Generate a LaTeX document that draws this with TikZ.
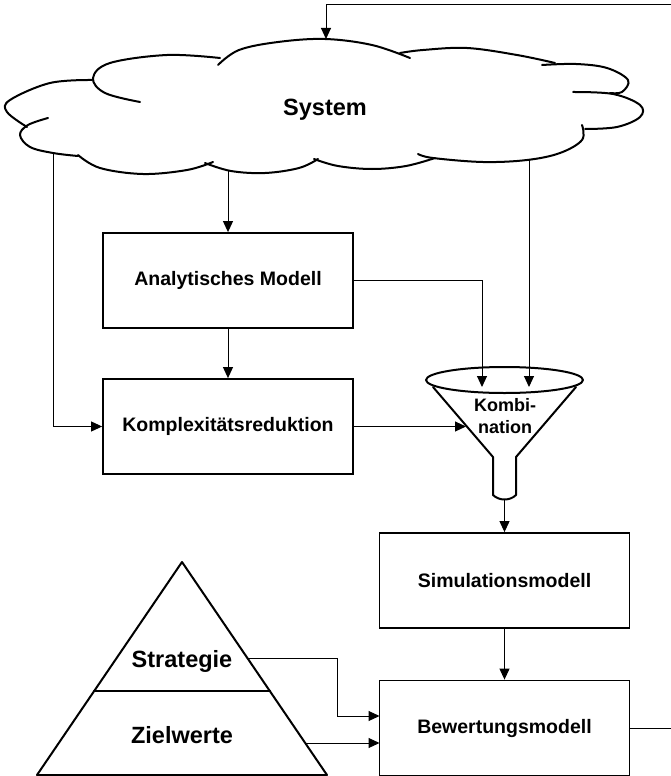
\documentclass[tikz,border=0pt]{standalone}
\usepackage{fontspec}
\setmainfont{Liberation Sans}
\usetikzlibrary{arrows.meta,calc}
\begin{document}
\begin{tikzpicture}[x=1pt,y=-1pt,
  box/.style={draw,line width=1.8pt,minimum width=250pt,minimum height=95pt,inner sep=0pt,
    font=\fontsize{19.5}{23}\selectfont\bfseries},
  conn/.style={line width=1pt,-{Triangle[length=11pt,width=10pt]}},
  outline/.style={line width=2pt,line join=round,line cap=round},
  lbl/.style={inner sep=0pt,font=\fontsize{23.5}{27}\selectfont\bfseries}]
\useasboundingbox (0,0) rectangle (670,776);

% ---- cloud ----
\draw[outline] plot[smooth,tension=0.6] coordinates {(218,65) (239,50) (278,42) (325,39) (372,45) (410,58)};
\draw[outline] plot[smooth,tension=0.6] coordinates {(400,53) (423,50) (467,48) (517,55) (555,63)};
\draw[outline] plot[smooth,tension=0.6] coordinates {(542,65) (576,64) (607,68) (628,80) (622,92) (610,93)};
\draw[outline] plot[smooth,tension=0.6] coordinates {(573,92) (613,94) (640,105) (640,117) (617,127) (585,129)};
\draw[outline] plot[smooth,tension=0.6] coordinates {(582,125) (582,140) (560,153) (527,160) (483,162) (433,158) (418,154)};
\draw[outline] plot[smooth,tension=0.6] coordinates {(435,158) (406,166) (372,169) (338,166) (314,159)};
\draw[outline] plot[smooth,tension=0.6] coordinates {(318,159) (299,168) (265,173) (231,171) (205,163)};
\draw[outline] plot[smooth,tension=0.6] coordinates {(213,162) (187,170) (143,174) (100,168) (78,155)};
\draw[outline] plot[smooth,tension=0.6] coordinates {(78,156) (53,153) (30,147) (20,135) (28,125) (48,118)};
\draw[outline] plot[smooth,tension=0.6] coordinates {(27,127) (7,112) (10,100) (50,83) (92,80)};
\draw[outline] plot[smooth,tension=0.6] coordinates {(140,102) (105,93) (93,78) (110,63) (167,55) (220,58)};
\node[inner sep=0pt,font=\fontsize{23.5}{27}\selectfont\bfseries] (sys) at (325,110) {System};
\coordinate (systop) at (326,39);
\coordinate (cl) at (53,153);
\coordinate (cm) at (228,171);
\coordinate (cr) at (529,160);

% ---- boxes ----
\node[box] (ana)  at (228,280.5) {Analytisches Modell};
\node[box] (komp) at (228,426.5) {Komplexitätsreduktion};
\node[box] (sim)  at (504.5,580.5) {Simulationsmodell};
\node[box] (bew)  at (504.5,728) {Bewertungsmodell};

% ---- funnel ----
\draw[outline] (504.5,380) ellipse [x radius=78.5, y radius=13];
\draw[outline] (433,387) -- (493,457) -- (493,495)
  .. controls (499,501) and (510,501) .. (516,495) -- (516,457) -- (576,387);
\node[inner sep=0pt,align=center,font=\fontsize{18}{22}\selectfont\bfseries] (komb) at (505,416) {Kombi-\\nation};
\coordinate (fin1) at (482,387);
\coordinate (fin2) at (529,387);
\coordinate (fin3) at (466,426.5);
\coordinate (fbot) at (504.5,499);

% ---- pyramid ----
\coordinate (apex) at (182,562);
\coordinate (bl) at (37,775);
\coordinate (br) at (327,775);
\draw[outline] (apex) -- (br) -- (bl) -- cycle;
\draw[outline] (94,691) -- (270,691);
\node[lbl] (strat) at (182,661) {Strategie};
\node[lbl] (ziel) at (182,735) {Zielwerte};
\coordinate (stredge) at (248,658);
\coordinate (zedge) at (305,743);
\coordinate (strbend) at (337,716);
\coordinate (bewin1) at (379.5,716);
\coordinate (bewin2) at (379.5,743);

% ---- feedback ----
\coordinate (fbb) at (676,728);
\coordinate (fbr) at (676,5);
\coordinate (fbx) at (326,5);

% ---- connectors ----
\draw[conn] (bew.east) -- (fbb) -- (fbr) -- (fbx) -- (systop);
\draw[conn] (cl) |- (komp.west);
\draw[conn] (cm) -- (ana.north);
\draw[conn] (cr) -- (fin2);
\draw[conn] (ana.south) -- (komp.north);
\draw[conn] (ana.east) -| (fin1);
\draw[conn] (komp.east) -- (fin3);
\draw[conn] (fbot) -- (sim.north);
\draw[conn] (sim.south) -- (bew.north);
\draw[conn] (stredge) -| (strbend) -- (bewin1);
\draw[conn] (zedge) -- (bewin2);
\end{tikzpicture}
\end{document}
